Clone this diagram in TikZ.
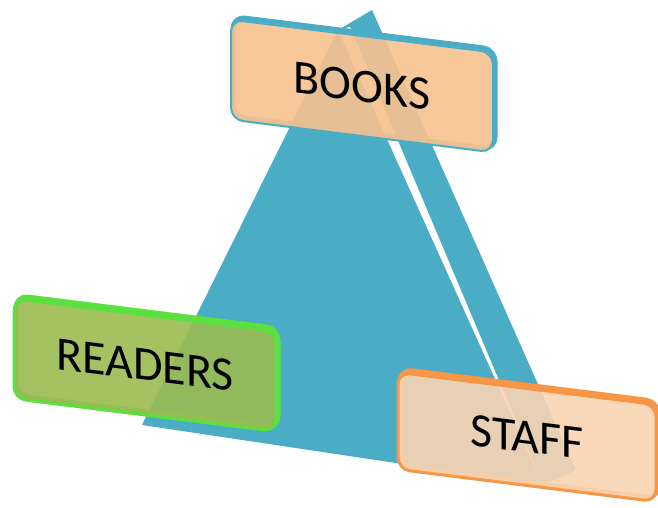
\documentclass[tikz,border=0pt]{standalone}
\usepackage{fontspec}
\setmainfont{Carlito}
\usetikzlibrary{shadows}
\definecolor{pyramid}{HTML}{4BACC6}
\definecolor{bookfill}{HTML}{F7C28F}
\definecolor{readfill}{HTML}{9BBB52}
\definecolor{readedge}{HTML}{5BE13F}
\definecolor{stafffill}{HTML}{F9D5B3}
\definecolor{staffedge}{HTML}{F79646}
\tikzset{
  tag/.style={rectangle, rounded corners=12pt, line width=2pt, fill opacity=0.9, text opacity=1,
    yslant=-0.125, minimum width=262pt, minimum height=100pt, font=\fontsize{48}{48}\selectfont,
    copy shadow={shadow xshift=2pt, shadow yshift=3pt, fill=none, draw=#1, line width=5pt, draw opacity=1}},
}
\begin{document}
\begin{tikzpicture}[x=1pt, y=-1pt]
  \useasboundingbox (0,0) rectangle (658,508);
  % pyramid, side face then front face
  \fill[pyramid] (338,30) -- (372,10) -- (576,470) -- (543,485) -- cycle;
  \fill[pyramid] (338,30) -- (142,425) -- (543,485) -- cycle;
  \fill[white] (338,30) -- (350,27) -- (543,485) -- cycle;

  \node[tag=pyramid, draw=pyramid, fill=bookfill] (books) at (362,86) {BOOKS};
  \node[tag=readedge, draw=readedge, fill=readfill, line width=3pt] (readers) at (145,365) {READERS};
  \node[tag=staffedge, draw=staffedge, fill=stafffill, line width=3pt, minimum height=97pt, minimum width=258pt] (staff) at (527,437) {STAFF};
\end{tikzpicture}
\end{document}
